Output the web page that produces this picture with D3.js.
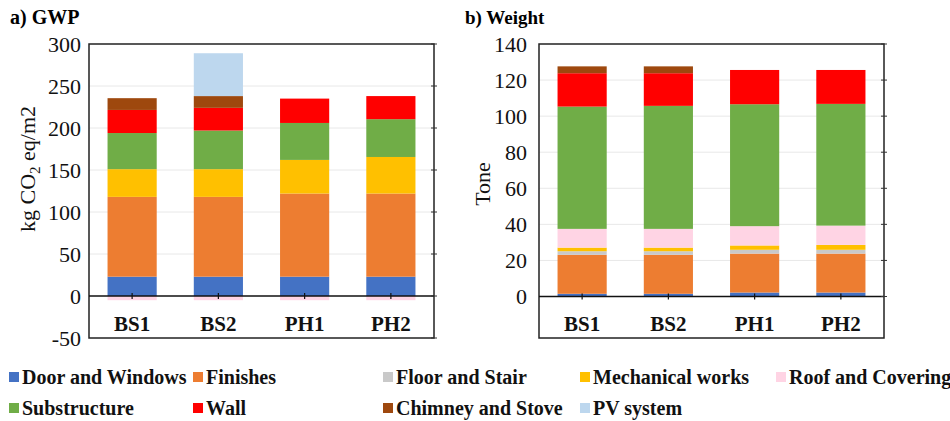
<!DOCTYPE html>
<html>
<head>
<meta charset="utf-8">
<script src="https://cdn.jsdelivr.net/npm/d3@7"></script>
<style>
  body { margin: 0; background: #fff; }
</style>
</head>
<body>
<svg id="chart" width="950" height="421" font-family="'Liberation Serif', 'Times New Roman', serif"></svg>
<script>
"use strict"

// categories and components
var buildings = ['BS1', 'BS2', 'PH1', 'PH2'];
var components = ['Door and Windows', 'Finishes', 'Floor and Stair', 'Mechanical works', 'Roof and Covering',
                  'Substructure', 'Wall', 'Chimney and Stove', 'PV system'];

// a) GWP, kg CO2 eq/m2 (one value per building)
var gwpDoor = [23, 23, 23, 23];
var gwpFinishes = [95, 95, 99, 99];
var gwpFloor = [0, 0, 0, 0];
var gwpMech = [33, 33, 40, 43.5];
var gwpRoof = [-5, -5, -5, -5];
var gwpSub = [43, 46, 44, 45];
var gwpWall = [27.5, 27, 29, 27.5];
var gwpChimney = [14, 14, 0, 0];
var gwpPV = [0, 51, 0, 0];

// b) Weight, tone
var wDoor = [1.5, 1.5, 2.2, 2.2];
var wFinishes = [21.6, 21.6, 21.6, 21.6];
var wFloor = [2.0, 2.0, 2.1, 2.1];
var wMech = [2.0, 2.0, 2.4, 2.7];
var wRoof = [10.4, 10.4, 10.7, 10.7];
var wSub = [67.8, 68.2, 67.6, 67.5];
var wWall = [18.5, 18.1, 19.0, 18.8];
var wChimney = [3.8, 3.8, 0, 0];
var wPV = [0, 0, 0, 0];

var gwpTicks = [-50, 0, 50, 100, 150, 200, 250, 300];
var weightTicks = [0, 20, 40, 60, 80, 100, 120, 140];

var colors = {
    'Door and Windows': '#4472C4', 'Finishes': '#ED7D31', 'Floor and Stair': '#C9C9C9',
    'Mechanical works': '#FFC000', 'Roof and Covering': '#FFD4E4', 'Substructure': '#70AD47',
    'Wall': '#FF0000', 'Chimney and Stove': '#9E480E', 'PV system': '#BDD7EE'
};

function makeRows(series) {
    return buildings.map(function(b, i) {
        var row = {Name: b};
        components.forEach(function(c, j) { row[c] = series[j][i]; });
        return row;
    });
}

var gwpData = makeRows([gwpDoor, gwpFinishes, gwpFloor, gwpMech, gwpRoof, gwpSub, gwpWall, gwpChimney, gwpPV]);
var weightData = makeRows([wDoor, wFinishes, wFloor, wMech, wRoof, wSub, wWall, wChimney, wPV]);

var svg = d3.select('#chart');
var serif = "'Liberation Serif', 'Times New Roman', serif";

function drawPanel(opt) {
    var g = svg.append('g');
    var x = d3.scaleBand()
        .domain(buildings)
        .range([opt.left, opt.right])
        .paddingInner(0.43)
        .paddingOuter(0.215);
    var y = d3.scaleLinear()
        .domain(opt.domain)
        .range(opt.range);

    // gridlines
    g.selectAll('line.grid')
        .data(opt.ticks.filter(function(t) { return t != 0 && t != opt.ticks[0] && t != opt.ticks[opt.ticks.length - 1]; }))
        .enter().append('line')
        .attr('x1', opt.left).attr('x2', opt.right)
        .attr('y1', function(d) { return y(d); }).attr('y2', function(d) { return y(d); })
        .attr('stroke', '#e8e8e8').attr('stroke-width', 1);

    // stacked bars, negative values hang below zero
    var stacked = d3.stack()
        .keys(components)
        .offset(d3.stackOffsetDiverging)(opt.data);
    g.append('g')
        .selectAll('g')
        .data(stacked)
        .enter().append('g')
        .attr('fill', function(d) { return colors[d.key]; })
        .selectAll('rect')
        .data(function(d) { return d; })
        .enter().append('rect')
        .attr('x', function(d) { return x(d.data.Name); })
        .attr('y', function(d) { return y(Math.max(d[0], d[1])); })
        .attr('width', x.bandwidth())
        .attr('height', function(d) { return Math.abs(y(d[0]) - y(d[1])); });

    // frame
    g.append('rect')
        .attr('x', opt.left).attr('y', opt.range[1])
        .attr('width', opt.right - opt.left).attr('height', opt.frameBottom - opt.range[1])
        .attr('fill', 'none').attr('stroke', '#222').attr('stroke-width', 1.5);

    // zero line
    g.append('line')
        .attr('x1', opt.left).attr('x2', opt.right)
        .attr('y1', y(0)).attr('y2', y(0))
        .attr('stroke', '#111').attr('stroke-width', 1.5);

    // x ticks at bar centers
    g.selectAll('line.xtick')
        .data(buildings)
        .enter().append('line')
        .attr('x1', function(d) { return x(d) + x.bandwidth() / 2; })
        .attr('x2', function(d) { return x(d) + x.bandwidth() / 2; })
        .attr('y1', y(0) - 3).attr('y2', y(0) + 3)
        .attr('stroke', '#111').attr('stroke-width', 1.2);

    // right side ticks
    g.selectAll('line.rtick')
        .data(opt.ticks)
        .enter().append('line')
        .attr('x1', opt.right - 3).attr('x2', opt.right + 3)
        .attr('y1', function(d) { return y(d); }).attr('y2', function(d) { return y(d); })
        .attr('stroke', '#333').attr('stroke-width', 1);

    // y tick labels
    g.selectAll('text.ytick')
        .data(opt.ticks)
        .enter().append('text')
        .attr('x', opt.left - opt.labelGap)
        .attr('y', function(d) { return y(d); })
        .attr('dy', '0.35em')
        .attr('text-anchor', 'end')
        .attr('font-family', serif)
        .attr('font-size', 22)
        .attr('fill', '#111')
        .text(function(d) { return d; });

    // category labels
    g.selectAll('text.cat')
        .data(buildings)
        .enter().append('text')
        .attr('x', function(d) { return x(d) + x.bandwidth() / 2; })
        .attr('y', 331)
        .attr('text-anchor', 'middle')
        .attr('font-family', serif)
        .attr('font-size', 21).attr('font-weight', 'bold')
        .attr('fill', '#111')
        .text(function(d) { return d; });

    // panel title
    g.append('text')
        .attr('x', opt.titleX).attr('y', 24)
        .attr('font-family', serif)
        .attr('font-size', opt.titleSize).attr('font-weight', 'bold')
        .text(opt.title);

    return g;
}

drawPanel({
    data: gwpData, left: 89, right: 434, domain: [-50, 300], range: [338, 44], frameBottom: 338,
    ticks: gwpTicks, labelGap: 8, title: 'a) GWP', titleX: 10, titleSize: 20
});
drawPanel({
    data: weightData, left: 539, right: 884, domain: [0, 140], range: [296.5, 44], frameBottom: 338,
    ticks: weightTicks, labelGap: 12, title: 'b) Weight', titleX: 465, titleSize: 19
});

// y axis titles
var yt = svg.append('text')
    .attr('transform', 'translate(35,169) rotate(-90)')
    .attr('text-anchor', 'middle')
    .attr('font-family', serif)
    .attr('font-size', 22)
    .attr('fill', '#111');
yt.append('tspan').text('kg CO');
yt.append('tspan').attr('dy', 5).attr('font-size', 15).text('2');
yt.append('tspan').attr('dy', -5).text(' eq/m2');

svg.append('text')
    .attr('transform', 'translate(490,184) rotate(-90)')
    .attr('text-anchor', 'middle')
    .attr('font-family', serif)
    .attr('font-size', 22)
    .attr('fill', '#111')
    .text('Tone');

// legend
var legendX = [9, 193, 383, 580, 776];
var legendY = [377, 408];
var legend = svg.append('g').selectAll('g')
    .data(components)
    .enter().append('g')
    .attr('transform', function(d, i) {
        var row = i < 5 ? 0 : 1;
        var col = row == 0 ? i : i - 5;
        return 'translate(' + legendX[col] + ',' + legendY[row] + ')';
    });
legend.append('rect')
    .attr('x', 0).attr('y', -5)
    .attr('width', 10).attr('height', 10)
    .attr('fill', function(d) { return colors[d]; });
legend.append('text')
    .attr('x', 13).attr('y', 0).attr('dy', '0.35em')
    .attr('font-family', serif)
    .attr('font-size', 20).attr('font-weight', 'bold')
    .attr('fill', '#111')
    .text(function(d) { return d; });
</script>
</body>
</html>
